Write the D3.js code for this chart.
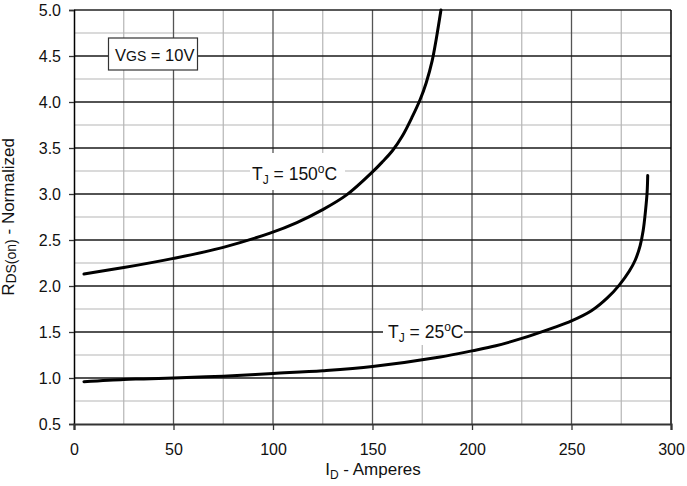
<!DOCTYPE html>
<html><head><meta charset="utf-8">
<script src="https://cdn.jsdelivr.net/npm/d3@7/dist/d3.min.js"></script>
<style>body{margin:0;background:#fff}svg{display:block;font-family:"Liberation Sans",Arial,sans-serif}</style>
</head><body><svg id="c" width="687" height="486"></svg>
<script>
const xTicks = [0, 50, 100, 150, 200, 250, 300];
const yTicks = [0.5, 1.0, 1.5, 2.0, 2.5, 3.0, 3.5, 4.0, 4.5, 5.0];
const t150 = [[5,2.13],[25,2.20],[50,2.30],[75,2.42],[98.5,2.575],[112,2.69],[125,2.83],[137,2.99],[150,3.24],[155,3.35],[160,3.47],[165,3.63],[170,3.84],[174,4.03],[177,4.21],[180,4.45],[182,4.68],[184.4,5.0]];
const t25 = [[5,0.96],[25,0.985],[35,0.99],[50,1.0],[75,1.02],[100,1.05],[125,1.08],[150,1.125],[184,1.228],[200,1.295],[212,1.35],[225,1.43],[240,1.54],[250,1.62],[260,1.73],[268,1.87],[274,2.01],[279,2.16],[282,2.28],[284.5,2.44],[286,2.6],[287.2,2.82],[288,3.02],[288.3,3.2]];

const svg = d3.select("#c");
const L = 74, R = 671, T = 10, B = 424;
const x = d3.scaleLinear().domain([0,300]).range([L,R]);
const y = d3.scaleLinear().domain([0.5,5]).range([B,T]);

// minor grid
const g = svg.append("g");
d3.range(25,300,50).forEach(v=>g.append("line").attr("x1",x(v)).attr("x2",x(v)).attr("y1",T).attr("y2",B).attr("stroke","#b5b5b5").attr("stroke-width",1.2));
d3.range(0.75,5,0.5).forEach(v=>g.append("line").attr("x1",L).attr("x2",R).attr("y1",y(v)).attr("y2",y(v)).attr("stroke","#b5b5b5").attr("stroke-width",1.2));
// major grid
xTicks.slice(1,-1).forEach(v=>g.append("line").attr("x1",x(v)).attr("x2",x(v)).attr("y1",T).attr("y2",B).attr("stroke","#555").attr("stroke-width",1.3));
yTicks.slice(1,-1).forEach(v=>g.append("line").attr("x1",L).attr("x2",R).attr("y1",y(v)).attr("y2",y(v)).attr("stroke","#1a1a1a").attr("stroke-width",1.3));

// label backgrounds
svg.append("rect").attr("x",250).attr("y",153).attr("width",95).attr("height",37).attr("fill","#fff");
svg.append("rect").attr("x",383).attr("y",311).attr("width",81).attr("height",34).attr("fill","#fff");

// frame
svg.append("line").attr("x1",L).attr("x2",R).attr("y1",T).attr("y2",T).attr("stroke","#222").attr("stroke-width",1.5);
svg.append("line").attr("x1",R).attr("x2",R).attr("y1",T).attr("y2",B).attr("stroke","#000").attr("stroke-width",1.5);

// axes
const ya = svg.append("g").attr("transform",`translate(${L},0)`).call(d3.axisLeft(y).tickValues(yTicks).tickFormat(d3.format(".1f")).tickSize(5).tickPadding(8));
const xa = svg.append("g").attr("transform",`translate(0,${B})`).call(d3.axisBottom(x).tickValues(xTicks).tickSize(6).tickPadding(14));
ya.select(".domain").attr("stroke","#000").attr("stroke-width",1.5);
xa.select(".domain").attr("stroke","#333").attr("stroke-width",2.2);
[ya,xa].forEach(a=>{a.selectAll("text").attr("font-size",16).attr("fill","#111").attr("font-family","Liberation Sans, Arial, sans-serif");a.selectAll(".tick line").attr("stroke","#333").attr("stroke-width",1.3);});

// curves
const line = d3.line().x(d=>x(d[0])).y(d=>y(d[1])).curve(d3.curveCatmullRom.alpha(0.5));
[t150,t25].forEach(d=>svg.append("path").datum(d).attr("d",line).attr("fill","none").attr("stroke","#000").attr("stroke-width",3).attr("stroke-linecap","round"));

// VGS box
svg.append("rect").attr("x",108.5).attr("y",38).attr("width",89).attr("height",32).attr("fill","#fff").attr("stroke","#333").attr("stroke-width",1.2);
const tv = svg.append("text").attr("x",115).attr("y",61).attr("font-size",16.5).attr("fill","#111");
tv.append("tspan").text("V");
tv.append("tspan").attr("font-size",14).text("GS");
tv.append("tspan").text(" = 10V");

function tj(xp, yp, val){
  const t = svg.append("text").attr("x",xp).attr("y",yp).attr("font-size",17.5).attr("fill","#111");
  t.append("tspan").text("T");
  t.append("tspan").attr("font-size",12).attr("dy",4).text("J");
  t.append("tspan").attr("dy",-4).text(" = " + val);
  t.append("tspan").attr("font-size",12).attr("dy",-7).text("o");
  t.append("tspan").attr("dy",7).text("C");
}
tj(252, 180, "150");
tj(388, 338, "25");

// axis titles
const yt = svg.append("text").attr("transform","translate(14,217) rotate(-90)").attr("text-anchor","middle").attr("font-size",17).attr("fill","#111");
yt.append("tspan").text("R");
yt.append("tspan").attr("font-size",14).attr("dy",2).text("DS(on)");
yt.append("tspan").attr("dy",-2).text(" - Normalized");
const xt = svg.append("text").attr("x",373).attr("y",475).attr("text-anchor","middle").attr("font-size",17).attr("fill","#111");
xt.append("tspan").text("I");
xt.append("tspan").attr("font-size",12).attr("dy",4).text("D");
xt.append("tspan").attr("dy",-4).text(" - Amperes");
</script></body></html>
